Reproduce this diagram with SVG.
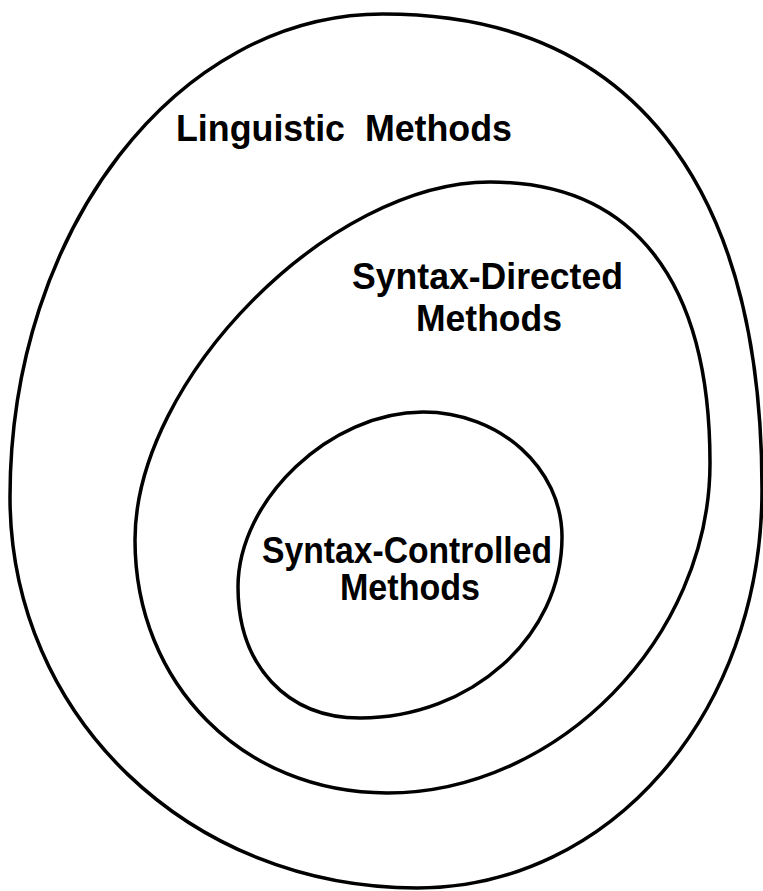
<svg xmlns="http://www.w3.org/2000/svg" width="763" height="891" viewBox="0 0 763 891">
  <style>
    .ring { fill: none; stroke: #000; stroke-width: 3.5; stroke-linejoin: round; }
    .label { font-family: "Liberation Sans", Arial, Helvetica, sans-serif; font-weight: bold; font-size: 36px; fill: #000; white-space: pre; }
  </style>
  <rect width="763" height="891" fill="#fff"/>

  <!-- Outermost set: linguistic methods -->
  <g id="linguistic">
    <path class="ring" d="M 10 497 C 10 230, 177 14, 383 14 C 629 14, 762 181, 762 490 C 762 713, 610 888, 417 888 C 189 888, 10 716, 10 497 Z"/>
    <text class="label" x="176" y="141" textLength="336" lengthAdjust="spacingAndGlyphs">Linguistic  Methods</text>
  </g>

  <!-- Middle set: syntax-directed methods -->
  <g id="syntax-directed">
    <path class="ring" d="M 135 540 C 135 379, 330 182, 490 182 C 633 182, 710 280, 710 463 C 710 638, 558 793, 387 793 C 243 793, 135 684, 135 540 Z"/>
    <text class="label" x="352" y="289" textLength="271" lengthAdjust="spacingAndGlyphs">Syntax-Directed</text>
    <text class="label" x="416" y="331" textLength="146" lengthAdjust="spacingAndGlyphs">Methods</text>
  </g>

  <!-- Innermost set: syntax-controlled methods -->
  <g id="syntax-controlled">
    <path class="ring" d="M 238 587 C 238 499.5, 330.5 412, 423 412 C 499.5 412, 562 468, 562 537 C 562 636.5, 471 718, 360 718 C 287 718, 238 665.6, 238 587 Z"/>
    <text class="label" x="262" y="563" textLength="290" lengthAdjust="spacingAndGlyphs">Syntax-Controlled</text>
    <text class="label" x="340" y="600" textLength="140" lengthAdjust="spacingAndGlyphs">Methods</text>
  </g>

  <g id="connectors"/>
</svg>
